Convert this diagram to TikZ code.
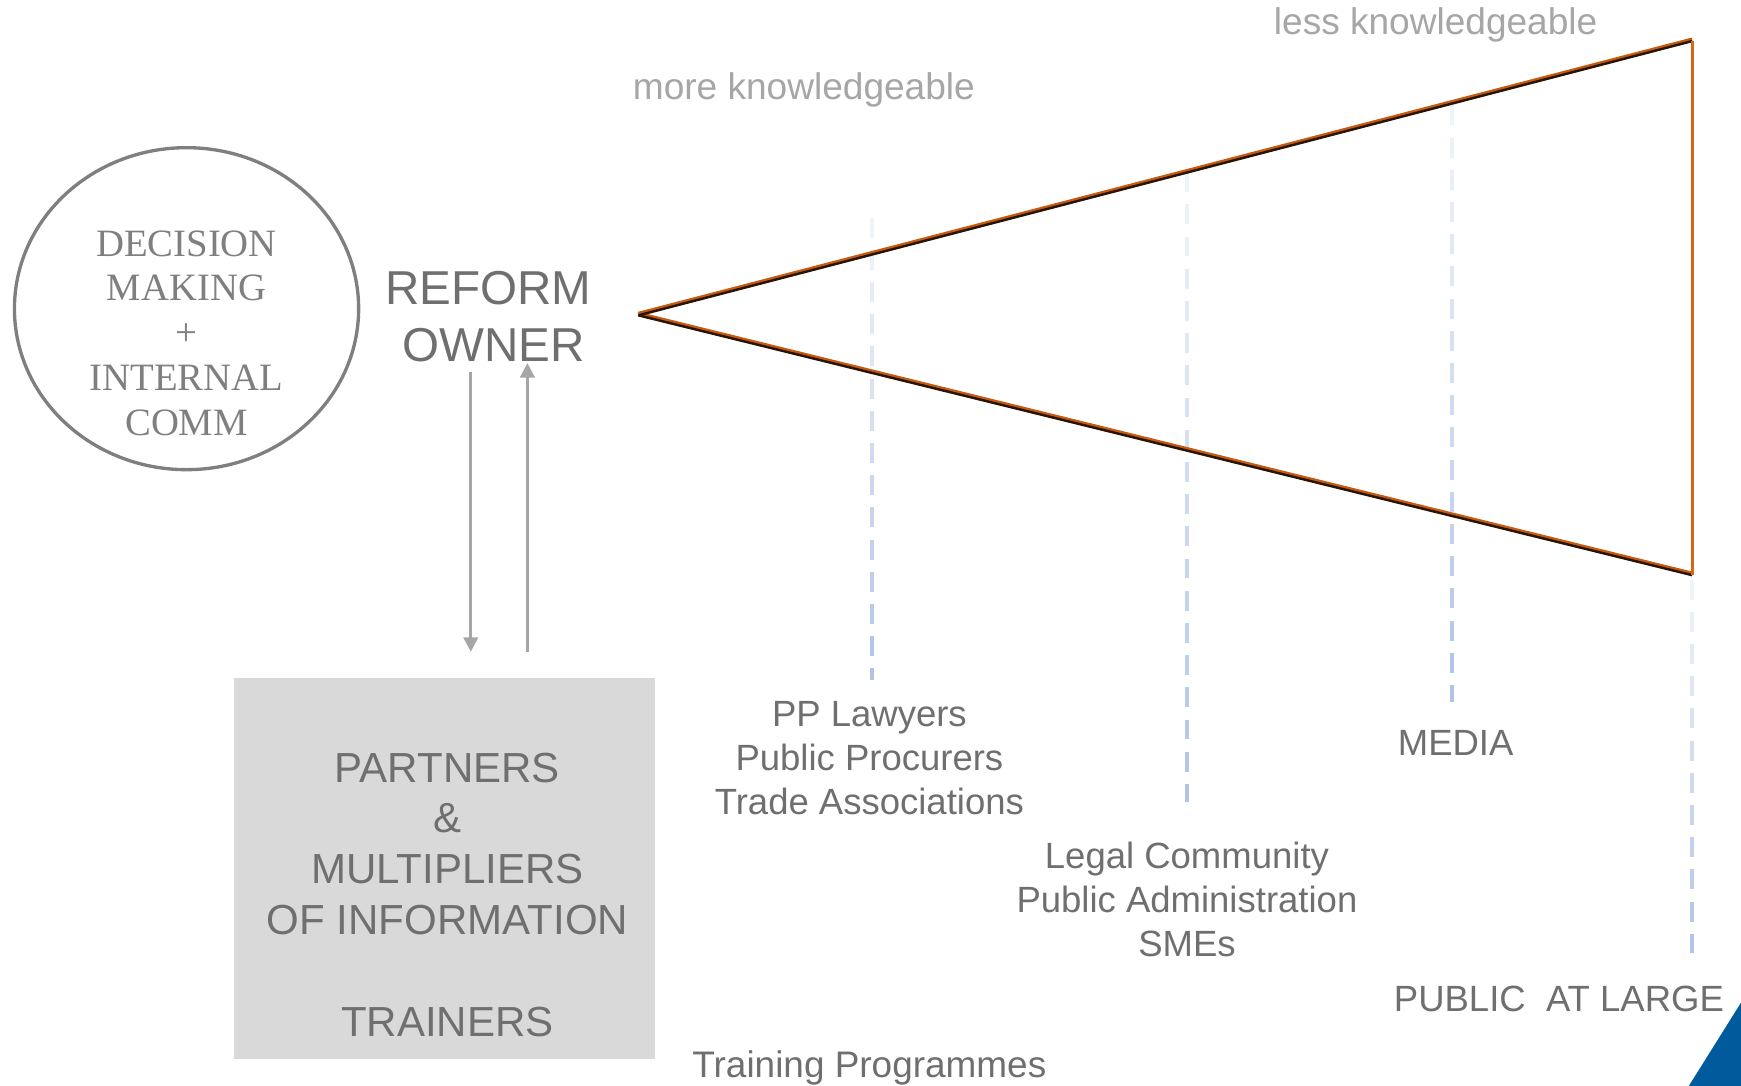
\documentclass[tikz,border=0pt]{standalone}
\usepackage{fontspec}
\setmainfont{Liberation Sans}
\newfontfamily\circfont{Liberation Serif}
\usetikzlibrary{arrows.meta,shapes.geometric}
\definecolor{txtgray}{HTML}{6F6F6F}
\definecolor{ltgray}{HTML}{A6A6A6}
\definecolor{circgray}{HTML}{7F7F7F}
\definecolor{boxfill}{HTML}{D9D9D9}
\definecolor{orng}{HTML}{C65A11}
\definecolor{orngedge}{HTML}{D2691A}
\definecolor{darkbrown}{HTML}{2A1405}
\definecolor{dcol}{HTML}{8FAADC}
\definecolor{cornerblue}{HTML}{005A9C}
\newcommand\gradash[3]{%
  \pgfmathsetmacro\mylen{#3-#2}%
  \foreach \t in {0,29,...,\mylen}{%
    \pgfmathsetmacro\pc{int(14+58*(\t/\mylen))}%
    \pgfmathsetmacro\ya{#2+\t}%
    \pgfmathsetmacro\yb{min(#2+\t+18,#3)}%
    \draw[dashseg, draw=dcol!\pc!white] (#1,\ya) -- (#1,\yb);
  }%
}
\begin{document}
\begin{tikzpicture}[x=1bp,y=-1bp,
  lbl/.style={text=txtgray, align=center, inner sep=0pt, font=\fontsize{33}{40}\selectfont},
  knowl/.style={text=ltgray, inner sep=0pt, font=\fontsize{33.5}{40}\selectfont},
  flowarrow/.style={draw=ltgray, line width=2.4bp, -{Triangle[length=13bp,width=13bp]}},
  dashseg/.style={line width=3.4bp},
  fanshadow/.style={draw=orng, line width=3.8bp, line join=miter},
  fanline/.style={draw=darkbrown, line width=2.2bp, line join=miter}]
\useasboundingbox (0,0) rectangle (1568,978);

% circle
\node[draw=circgray, line width=3bp, ellipse, minimum width=310bp, minimum height=290bp, inner sep=0pt] (circ) at (168,278) {};
\node[text=circgray, align=center, inner sep=0pt, font=\circfont\fontsize{35}{40.5}\selectfont] (circtxt) at (168,300) {DECISION\\MAKING\\+\\INTERNAL\\COMM};

% reform owner
\node[text=txtgray, align=center, inner sep=0pt, font=\fontsize{43}{52}\selectfont] (owner) at (440,285) {REFORM\\\hspace*{9bp}OWNER};

% knowledge labels
\node[knowl] (more) at (724,81) {more knowledgeable};
\node[knowl] (less) at (1293,22) {less knowledgeable};

% dashed guide lines
\gradash{785}{196}{612}
\gradash{1069}{155}{722}
\gradash{1308}{95}{632}
\gradash{1524}{522}{858}

% fan triangle
\coordinate (apex) at (575,284);
\coordinate (tr) at (1524,37);
\coordinate (br) at (1524,518);
\draw[fanshadow] ([yshift=1.3bp]apex) -- ([yshift=1.3bp]tr);
\draw[fanshadow] ([yshift=1.3bp]apex) -- ([yshift=1.3bp]br);
\draw[fanline] (apex) -- (tr);
\draw[fanline] (apex) -- (br);
\draw[draw=orngedge, line width=3bp] (tr) -- (br);

% partners box
\node[fill=boxfill, minimum width=379bp, minimum height=343bp, inner sep=0pt] (box) at (400.5,782.5) {};
\node[text=txtgray, align=center, inner sep=0pt, font=\fontsize{38}{46}\selectfont] (boxtxt) at (403,806) {PARTNERS\\\&\\MULTIPLIERS\\OF INFORMATION\\[46bp]TRAINERS};

% arrows
\coordinate (d1) at (424,335);
\coordinate (d2) at (424,587);
\coordinate (u1) at (475,587);
\coordinate (u2) at (475,327);
\draw[flowarrow] (d1) -- (d2);
\draw[flowarrow] (u1) -- (u2);

% stakeholder labels
\node[lbl] (pp) at (783,683) {PP Lawyers\\Public Procurers\\Trade Associations};
\node[lbl] (legal) at (1069,810) {Legal Community\\Public Administration\\SMEs};
\node[lbl] (media) at (1311,669) {MEDIA};
\node[lbl] (public) at (1404,900) {PUBLIC\ \ AT LARGE};
\node[lbl, font=\fontsize{33.4}{40}\selectfont] (training) at (783,962) {Training Programmes};

% corner shape
\fill[cornerblue] (1568,903) -- (1521,978) -- (1568,978) -- cycle;
\end{tikzpicture}
\end{document}
